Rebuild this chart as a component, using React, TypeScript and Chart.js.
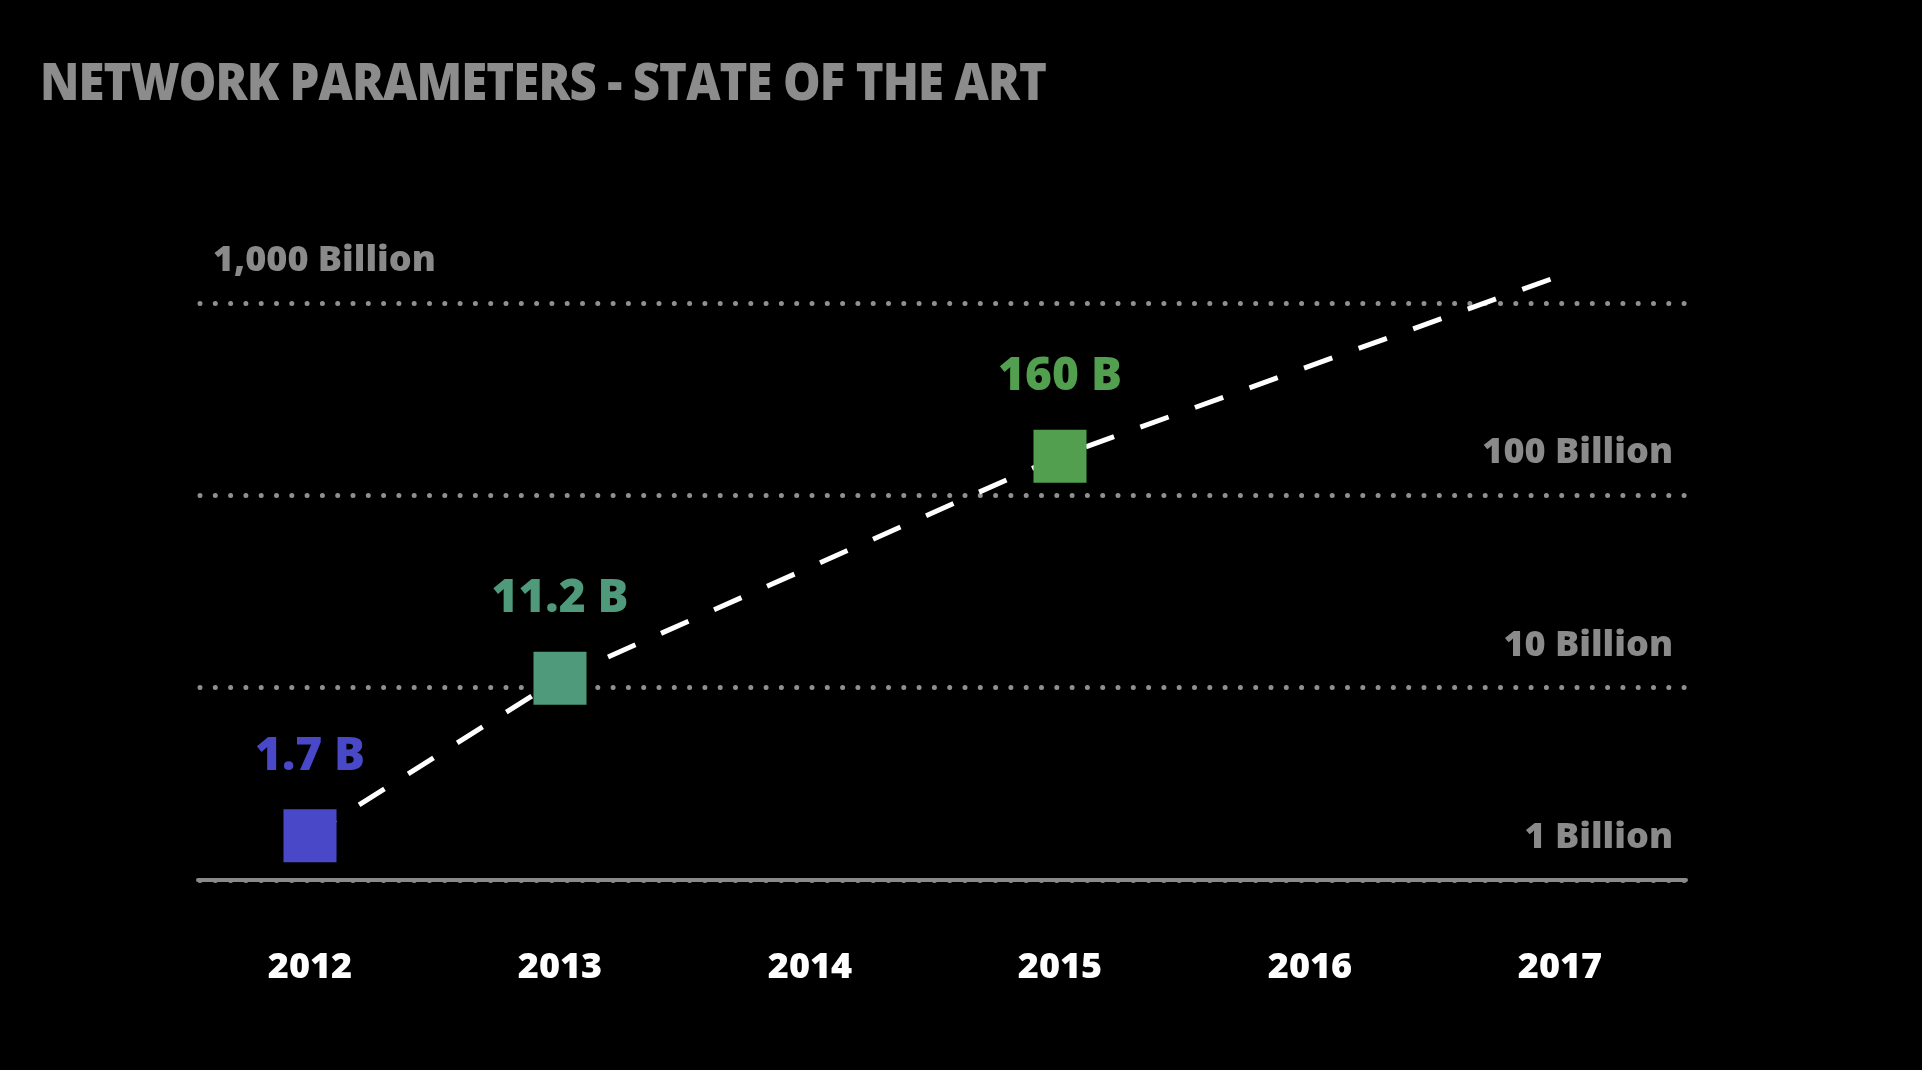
import React, { useEffect, useLayoutEffect, useRef } from "react";
import { Chart, registerables } from "chart.js";

Chart.register(...registerables);

const TITLE = "NETWORK PARAMETERS - STATE OF THE ART";
const yearTicks = [2012, 2013, 2014, 2015, 2016, 2017];
const pointYears = [2012, 2013, 2015];
const pointValues = [1.7, 11.2, 160];
const pointLabels = ["1.7 B", "11.2 B", "160 B"];
const pointColors = ["#4848c8", "#4f9a7a", "#52a04f"];
const trendYears = [2012, 2013, 2015, 2017.06];
const trendValues = [1.7, 11.2, 160, 1480];
const gridValues = [1, 10, 100, 1000];
const gridLabels = ["1 Billion", "10 Billion", "100 Billion", "1,000 Billion"];
const gridLabelAlign = ["right", "right", "right", "left"];

const GRAY = "#8a8a8a";
const FONT = '"Open Sans", "DejaVu Sans", sans-serif';

const labelsPlugin = {
  id: "slideLabels",
  beforeDraw(chart: any) {
    chart.ctx.lineCap = "round";
  },
  afterDraw(chart: any) {
    const ctx = chart.ctx;
    const y = chart.scales.y;
    const area = chart.chartArea;
    ctx.save();
    ctx.lineCap = "butt";
    ctx.font = `800 36px ${FONT}`;
    ctx.fillStyle = GRAY;
    ctx.textBaseline = "alphabetic";
    gridValues.forEach((v, i) => {
      const py = y.getPixelForValue(v);
      const align = gridLabelAlign[i];
      ctx.textAlign = align;
      const px = align === "left" ? area.left + 13 : area.right - 12;
      ctx.fillText(gridLabels[i], px, py - 32);
    });
    const meta = chart.getDatasetMeta(0);
    ctx.font = `800 46px ${FONT}`;
    ctx.textAlign = "center";
    meta.data.forEach((el: any, i: number) => {
      ctx.fillStyle = pointColors[i];
      ctx.fillText(pointLabels[i], el.x, el.y - 66);
    });
    ctx.restore();
    ctx.lineCap = "butt";
  },
};

export default function App() {
  const canvasRef = useRef<HTMLCanvasElement | null>(null);
  const titleRef = useRef<HTMLSpanElement | null>(null);

  useLayoutEffect(() => {
    const t = titleRef.current;
    if (t) {
      t.style.transform = "none";
      const w = t.getBoundingClientRect().width;
      if (w > 0) t.style.transform = `scaleX(${1006 / w})`;
    }
  }, []);

  useEffect(() => {
    const canvas = canvasRef.current;
    if (!canvas) return;
    const chart = new Chart(canvas, {
      type: "line",
      data: {
        datasets: [
          {
            label: "points",
            data: pointYears.map((x, i) => ({ x, y: pointValues[i] })),
            showLine: false,
            pointStyle: "rect",
            pointRadius: 37.5,
            pointHoverRadius: 37.5,
            pointBackgroundColor: pointColors,
            pointBorderWidth: 0,
            borderWidth: 0,
          },
          {
            label: "trend",
            data: trendYears.map((x, i) => ({ x, y: trendValues[i] })),
            borderColor: "#ffffff",
            borderWidth: 5,
            borderDash: [30, 28],
            pointRadius: 0,
            fill: false,
            tension: 0,
          },
        ],
      } as any,
      options: {
        animation: false,
        responsive: false,
        devicePixelRatio: 1,
        events: [],
        layout: { padding: { left: 200, right: 237, top: 240, bottom: 0 } },
        plugins: { legend: { display: false }, tooltip: { enabled: false } },
        scales: {
          x: {
            type: "linear",
            min: 2011.56,
            max: 2017.5,
            afterBuildTicks: (s: any) => {
              s.ticks = yearTicks.map((v) => ({ value: v }));
            },
            afterFit: (s: any) => {
              s.height = 190;
            },
            grid: { display: false, drawTicks: false },
            border: { display: true, color: GRAY, width: 4 },
            ticks: {
              color: "#ffffff",
              font: { family: FONT, size: 36, weight: "800" },
              padding: 66,
              maxRotation: 0,
              autoSkip: false,
              callback: (v: any) => String(v),
            },
          },
          y: {
            type: "logarithmic",
            min: 1,
            max: 2130,
            afterBuildTicks: (s: any) => {
              s.ticks = gridValues.map((v) => ({ value: v }));
            },
            afterFit: (s: any) => {
              s.width = 0;
            },
            ticks: { display: false },
            grid: { color: "#909090", lineWidth: 5, drawTicks: false },
            border: { display: false, dash: [0, 15.3] },
          },
        },
      } as any,
      plugins: [labelsPlugin as any],
    });
    return () => chart.destroy();
  }, []);

  return (
    <div
      style={{
        position: "fixed",
        left: 0,
        top: 0,
        width: 1922,
        height: 1070,
        background: "#000",
        overflow: "hidden",
      }}
    >
      <canvas ref={canvasRef} width={1922} height={1070} style={{ display: "block" }} />
      <div
        style={{
          position: "absolute",
          left: 40,
          top: 54,
          fontFamily: FONT,
          fontWeight: 800,
          fontSize: 52,
          lineHeight: "52px",
          color: "#8c8c8c",
          whiteSpace: "nowrap",
          letterSpacing: "-1px",
        }}
      >
        <span ref={titleRef} style={{ display: "inline-block", transformOrigin: "left center" }}>
          {TITLE}
        </span>
      </div>
    </div>
  );
}
